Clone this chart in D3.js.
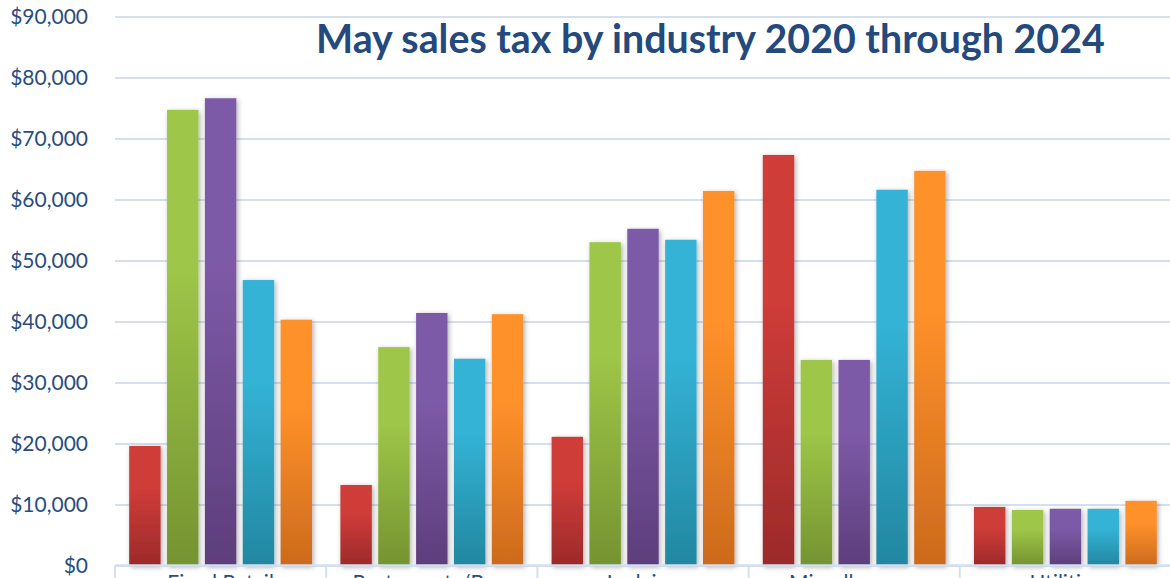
<!DOCTYPE html>
<html>
<head>
<meta charset="utf-8">
<script src="https://cdn.jsdelivr.net/npm/d3@7"></script>
<style>
  html, body { margin: 0; padding: 0; background: #fff; overflow: hidden; }
  svg { display: block; }
</style>
</head>
<body>
<svg id="chart" width="1170" height="578"></svg>
<script>
// Industries along the x axis
const categories = ["Fixed Retail", "Restaurants/Bars", "Lodging", "Miscellaneous", "Utilities"];
// One series per May, 2020 through 2024
const years = ["2020", "2021", "2022", "2023", "2024"];
const values2020 = [19600, 13200, 21100, 67300, 9600];
const values2021 = [74700, 35800, 53000, 33700, 9100];
const values2022 = [76600, 41400, 55200, 33700, 9300];
const values2023 = [46800, 33900, 53400, 61600, 9300];
const values2024 = [40300, 41200, 61400, 64700, 10600];
const yTicks = [0, 10000, 20000, 30000, 40000, 50000, 60000, 70000, 80000, 90000];
const titleText = "May sales tax by industry 2020 through 2024";

const seriesValues = [values2020, values2021, values2022, values2023, values2024];
// light (top) and dark (bottom) stops of each series' gradient
const seriesColors = [
  ["#cf3c39", "#9c2a2a"],
  ["#9ec648", "#759331"],
  ["#7d5aa7", "#5d3e7c"],
  ["#34b3d6", "#2287a1"],
  ["#ff912a", "#cc6a1d"]
];

const svg = d3.select("#chart");
const plotLeft = 115, plotRight = 1171, plotTop = 16.5, plotBottom = 565.5;

const x0 = d3.scaleBand().domain(categories).range([plotLeft, plotRight]).padding(0);
const x1 = d3.scaleBand().domain(years).range([0, x0.bandwidth()])
  .paddingInner(0.17).paddingOuter(0.375);
const y = d3.scaleLinear().domain([0, 90000]).range([plotBottom, plotTop]);

const defs = svg.append("defs");
years.forEach((yr, i) => {
  const g = defs.append("linearGradient")
    .attr("id", "grad" + yr)
    .attr("x1", 0).attr("y1", 0).attr("x2", 0).attr("y2", 1);
  g.append("stop").attr("offset", "0%").attr("stop-color", seriesColors[i][0]);
  g.append("stop").attr("offset", "35%").attr("stop-color", seriesColors[i][0]);
  g.append("stop").attr("offset", "100%").attr("stop-color", seriesColors[i][1]);
});
const shadow = defs.append("filter").attr("id", "barShadow")
  .attr("x", "-40%").attr("y", "-10%").attr("width", "180%").attr("height", "130%");
shadow.append("feDropShadow")
  .attr("dx", 1.5).attr("dy", 1.5).attr("stdDeviation", 2.6)
  .attr("flood-color", "#000").attr("flood-opacity", 0.32);

const gridColor = "#d4e0ef";
const textColor = "#284d7e";

// Horizontal gridlines and value axis labels
const yAxis = d3.axisLeft(y)
  .tickValues(yTicks)
  .tickSize(-(plotRight - plotLeft))
  .tickPadding(27)
  .tickFormat(d => "$" + d3.format(",")(d));
svg.append("g")
  .attr("transform", `translate(${plotLeft},0)`)
  .call(yAxis)
  .call(g => g.select(".domain").remove())
  .call(g => g.selectAll(".tick line").attr("stroke", gridColor).attr("stroke-width", 2))
  .call(g => g.selectAll(".tick text")
    .attr("fill", textColor)
    .attr("font-family", "Lato, 'Open Sans', sans-serif")
    .attr("font-size", 21));

// Bars
const groups = svg.append("g").selectAll("g")
  .data(categories)
  .join("g")
  .attr("transform", d => `translate(${x0(d)},0)`);

groups.selectAll("rect")
  .data((c, ci) => years.map((yr, si) => ({ yr, v: seriesValues[si][ci] })))
  .join("rect")
  .attr("x", d => x1(d.yr))
  .attr("y", d => y(d.v))
  .attr("width", x1.bandwidth())
  .attr("height", d => y(0) - y(d.v))
  .attr("fill", d => `url(#grad${d.yr})`)
  .attr("filter", "url(#barShadow)");

// Category axis with boundary ticks between industries
const xAxisG = svg.append("g").attr("transform", `translate(0,${plotBottom})`);
xAxisG.append("line")
  .attr("x1", plotLeft).attr("x2", plotRight)
  .attr("stroke", gridColor).attr("stroke-width", 2.5);
const bounds = categories.map(c => x0(c)).concat([plotRight]);
xAxisG.selectAll("line.bound")
  .data(bounds)
  .join("line")
  .attr("class", "bound")
  .attr("x1", d => d).attr("x2", d => d)
  .attr("y1", 0).attr("y2", 20)
  .attr("stroke", gridColor).attr("stroke-width", 2);
xAxisG.selectAll("text")
  .data(categories)
  .join("text")
  .attr("x", d => x0(d) + x0.bandwidth() / 2)
  .attr("y", 24)
  .attr("text-anchor", "middle")
  .attr("fill", textColor)
  .attr("font-family", "Lato, 'Open Sans', sans-serif")
  .attr("font-size", 21)
  .text(d => d);

// Title
const title = svg.append("text")
  .attr("x", 316)
  .attr("y", 53)
  .attr("fill", "#23497d")
  .attr("font-family", "Lato, 'Open Sans', sans-serif")
  .attr("font-weight", 700)
  .attr("font-size", 36)
  .text(titleText);
const tw = title.node().getComputedTextLength();
title.attr("font-size", 36 * 789 / tw);
</script>
</body>
</html>
